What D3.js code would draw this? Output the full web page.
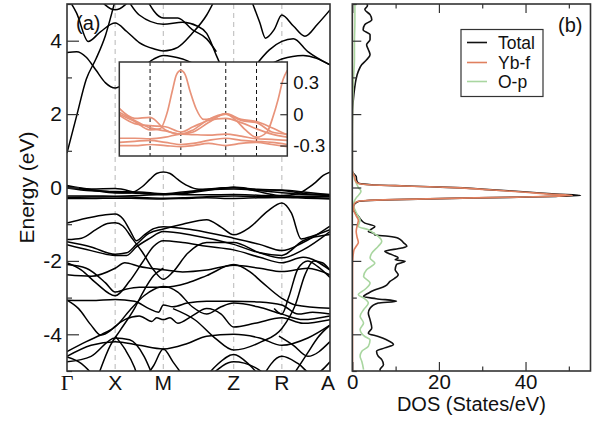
<!DOCTYPE html>
<html>
<head>
<meta charset="utf-8">
<script src="https://cdn.jsdelivr.net/npm/d3@7"></script>
<style>
  body { margin: 0; background: #fff; }
  text { font-family: "Liberation Sans", Arial, Helvetica, sans-serif; fill: #111; }
</style>
</head>
<body>
<svg id="chart" width="606" height="424"></svg>
<script>
// ---- k-path (high-symmetry points, cumulative path length) ----
const kLabels = ["Γ", "X", "M", "Z", "R", "A"];
const kPoints = [0, 0.5, 1.0, 1.73, 2.23, 2.73];

// ---- bands: each band is a list of [k, E(eV)] knots ----
const conductionBands = [
  [[0,0.94],[0.1,1.95],[0.2,2.95],[0.3,3.5],[0.4,4.15],[0.48,4.9],[0.52,5.3]],
  [[0,3.68],[0.1,3.7],[0.2,3.55],[0.3,3.2],[0.4,2.85],[0.5,2.71],[0.62,2.9],[0.75,3.2],[0.9,3.5],[1.0,3.6],[1.2,3.5],[1.45,3.2],[1.73,3.0],[2.0,3.2],[2.23,3.5],[2.45,3.6],[2.73,3.34]],
  [[0,5.2],[0.1,4.75],[0.22,3.98],[0.35,4.25],[0.5,4.48],[0.62,4.25],[0.75,3.95],[0.9,3.78],[1.0,3.72],[1.15,3.82],[1.3,4.2],[1.45,4.7],[1.55,5.2]],
  [[0.3,5.25],[0.5,4.84],[0.7,5.25]],
  [[0.6,5.25],[0.75,4.7],[1.0,4.45],[1.2,4.5],[1.35,4.4],[1.45,4.2],[1.55,3.6],[1.65,3.0]],
  [[0.8,5.25],[1.0,4.62],[1.15,4.62],[1.3,4.3],[1.45,4.05],[1.55,3.7]],
  [[1.9,5.2],[2.0,4.5],[2.06,4.07],[2.15,4.3],[2.23,4.7],[2.35,4.4],[2.47,4.12],[2.6,4.45],[2.73,4.84]],
  [[1.95,3.3],[2.1,3.75],[2.23,3.98],[2.35,4.05],[2.5,3.7],[2.73,3.34]]
];

const fBands = [
  [[0,0.0],[0.25,-0.07],[0.5,-0.15],[0.66,-0.14],[0.78,0.02],[0.86,0.22],[0.93,0.38],[1.0,0.42],[1.07,0.38],[1.15,0.22],[1.25,0.05],[1.37,-0.05],[1.5,-0.04],[1.73,0.0],[1.9,-0.06],[2.05,-0.15],[2.23,-0.22],[2.4,-0.17],[2.5,-0.02],[2.58,0.14],[2.66,0.33],[2.73,0.42]],
  [[0,0.055],[0.25,-0.04],[0.5,-0.03],[0.75,-0.15],[1.0,-0.19],[1.2,-0.17],[1.45,-0.08],[1.73,0.006],[1.98,-0.05],[2.23,-0.07],[2.48,-0.13],[2.73,-0.2]],
  [[0,0.02],[0.25,-0.06],[0.5,-0.13],[0.75,-0.16],[1.0,-0.19],[1.2,-0.15],[1.45,-0.05],[1.73,0.0],[1.98,-0.06],[2.23,-0.08],[2.48,-0.17],[2.73,-0.19]],
  [[0,-0.01],[0.25,-0.09],[0.5,-0.11],[0.75,-0.12],[1.0,-0.17],[1.2,-0.12],[1.45,-0.06],[1.73,-0.04],[1.98,-0.08],[2.23,-0.14],[2.48,-0.19],[2.73,-0.22]],
  [[0,-0.23],[0.25,-0.23],[0.5,-0.235],[0.75,-0.22],[1.0,-0.19],[1.2,-0.195],[1.45,-0.2],[1.73,-0.19],[1.98,-0.21],[2.23,-0.235],[2.48,-0.24],[2.73,-0.25]],
  [[0,-0.27],[0.25,-0.26],[0.5,-0.25],[0.75,-0.27],[1.0,-0.29],[1.2,-0.28],[1.45,-0.25],[1.73,-0.23],[1.98,-0.25],[2.23,-0.26],[2.48,-0.27],[2.73,-0.29]],
  [[0,-0.3],[0.25,-0.3],[0.5,-0.29],[0.75,-0.3],[1.0,-0.31],[1.2,-0.3],[1.45,-0.28],[1.73,-0.3],[1.98,-0.28],[2.23,-0.27],[2.48,-0.29],[2.73,-0.31]]
];

const valenceBands = [
  [[0,-0.97],[0.2,-0.84],[0.4,-0.74],[0.5,-0.72],[0.58,-0.85],[0.66,-1.2],[0.72,-1.45],[0.8,-1.3],[0.9,-1.12],[1.0,-1.07],[1.3,-1.15],[1.73,-1.38],[2.0,-1.55],[2.23,-1.72],[2.45,-1.5],[2.73,-1.05]],
  [[0,-1.42],[0.15,-1.38],[0.3,-1.15],[0.42,-0.98],[0.5,-0.96],[0.58,-1.05],[0.68,-1.4],[0.78,-1.75],[0.9,-2.25],[1.0,-2.5],[1.1,-2.3],[1.25,-1.8],[1.45,-1.5],[1.73,-1.5],[2.0,-1.78],[2.23,-1.92],[2.45,-1.7],[2.73,-1.2]],
  [[0,-1.48],[0.25,-1.62],[0.5,-1.82],[0.62,-1.78],[0.72,-1.55],[0.85,-1.25],[1.0,-1.13],[1.2,-1.0],[1.45,-0.88],[1.6,-1.08],[1.73,-1.29],[1.9,-1.08],[2.08,-0.65],[2.23,-0.42],[2.33,-0.7],[2.43,-1.4],[2.55,-1.32],[2.73,-1.15]],
  [[0,-1.56],[0.25,-1.72],[0.5,-1.85],[0.62,-1.85],[0.72,-1.62],[0.85,-1.4],[1.0,-1.2],[1.3,-1.3],[1.73,-1.55],[2.0,-1.78],[2.23,-1.85],[2.45,-1.45],[2.73,-1.28]],
  [[0,-2.05],[0.15,-2.25],[0.3,-2.6],[0.5,-2.95],[0.65,-2.55],[0.78,-2.05],[0.9,-1.6],[1.0,-1.45],[1.2,-1.5],[1.45,-1.6],[1.73,-1.7],[2.0,-1.9],[2.23,-2.05],[2.45,-1.9],[2.73,-2.25]],
  [[0,-2.1],[0.2,-2.2],[0.4,-2.6],[0.5,-2.85],[0.6,-2.78],[0.75,-2.72],[1.0,-2.72],[1.25,-2.6],[1.45,-2.4],[1.73,-2.1],[1.9,-2.3],[2.02,-2.57],[2.23,-3.02],[2.37,-3.2],[2.73,-3.29]],
  [[0,-2.38],[0.25,-2.42],[0.5,-2.2],[0.6,-2.05],[0.75,-2.15],[1.0,-2.24],[1.2,-2.3],[1.45,-2.25],[1.73,-2.12],[2.0,-2.2],[2.23,-2.29],[2.5,-2.2],[2.73,-2.38]],
  [[0,-3.07],[0.25,-3.08],[0.5,-3.05],[0.7,-3.1],[0.85,-3.3],[0.95,-3.4],[1.0,-3.2],[1.1,-3.25],[1.25,-3.15],[1.45,-3.1],[1.73,-3.1],[2.0,-3.12],[2.23,-3.2],[2.4,-3.45],[2.55,-3.4],[2.73,-3.45]],
  [[0,-3.07],[0.12,-3.3],[0.25,-3.75],[0.35,-4.02],[0.45,-3.9],[0.5,-3.78],[0.6,-3.6],[0.75,-3.5],[0.88,-3.65],[0.93,-3.55],[1.0,-3.6],[1.07,-3.55],[1.15,-3.7],[1.3,-3.5],[1.45,-3.3],[1.6,-3.45],[1.73,-3.8],[1.95,-3.7],[2.23,-3.55],[2.45,-3.7],[2.73,-3.6]],
  [[0,-4.47],[0.2,-4.2],[0.4,-3.95],[0.5,-3.8],[0.65,-3.35],[0.8,-2.95],[0.9,-2.78],[1.0,-2.7],[1.15,-2.85],[1.3,-3.25],[1.45,-3.45],[1.6,-3.25],[1.73,-3.15],[1.98,-3.25],[2.23,-3.45],[2.45,-3.6],[2.73,-3.5]],
  [[0,-4.6],[0.25,-4.3],[0.5,-4.2],[0.75,-4.3],[1.0,-4.4],[1.25,-4.25],[1.45,-4.05],[1.73,-4.0],[2.0,-4.1],[2.23,-4.3],[2.5,-4.1],[2.73,-3.75]],
  [[0,-4.75],[0.25,-4.6],[0.5,-4.1],[0.65,-4.15],[0.8,-4.6],[0.9,-5.2]],
  [[0,-4.62],[0.15,-4.8],[0.3,-5.2]],
  [[0.78,-5.3],[0.9,-4.85],[1.0,-4.4],[1.1,-4.75],[1.25,-5.3]],
  [[1.1,-3.3],[1.33,-3.61],[1.54,-4.11],[1.73,-4.43],[2.02,-4.2],[2.23,-3.84],[2.37,-3.2],[2.47,-2.38],[2.56,-2.0],[2.65,-2.05],[2.73,-2.25]],
  [[1.4,-5.3],[1.55,-4.85],[1.73,-4.55],[1.9,-4.85],[2.05,-5.3]],
  [[1.5,-5.1],[1.73,-4.75],[1.95,-4.9],[2.15,-5.3]],
  [[2.0,-5.3],[2.23,-4.6],[2.4,-4.8],[2.55,-5.1],[2.73,-4.75]],
  [[2.3,-5.3],[2.5,-4.5],[2.6,-4.1],[2.73,-3.75]],
  [[2.2,-4.05],[2.35,-4.3],[2.5,-4.6],[2.73,-4.2]],
  [[2.15,-3.3],[2.23,-3.45],[2.3,-3.0],[2.4,-2.2],[2.5,-2.0],[2.6,-2.15],[2.73,-2.45]],
  [[0.3,-5.3],[0.45,-4.3],[0.55,-3.9],[0.7,-3.3],[0.8,-2.8],[0.9,-2.4],[1.0,-2.2]],
  [[0.5,-4.05],[0.6,-4.4],[0.7,-4.9],[0.75,-5.3]]
];

// ---- density of states (States/eV) ----
const totalE   = [5.0,4.95,4.85,4.71,4.57,4.44,4.3,4.16,4.03,3.89,3.76,3.62,3.48,3.35,3.17,2.94,2.67,2.4,2.12,1.5,0.8,0.45,0.38,0.3,0.2,0.12,0.1,0.07,0.05,0.02,-0.01,-0.05,-0.09,-0.13,-0.18,-0.22,-0.24,-0.26,-0.29,-0.33,-0.36,-0.38,-0.42,-0.5,-0.6,-0.7,-0.8,-0.88,-0.97,-1.06,-1.13,-1.2,-1.25,-1.29,-1.33,-1.38,-1.5,-1.6,-1.65,-1.74,-1.79,-1.85,-1.92,-1.97,-2.01,-2.1,-2.24,-2.38,-2.56,-2.69,-2.8,-2.88,-2.97,-3.03,-3.1,-3.15,-3.29,-3.42,-3.6,-3.83,-3.97,-4.06,-4.15,-4.28,-4.37,-4.46,-4.6,-4.69,-4.83,-4.96,-5.0];
const totalDOS = [3.4,3.5,2.9,4.1,4.5,2.9,2.5,4.1,4.1,3.3,3.7,4.1,3.3,2.2,1.4,0.85,0.5,0.25,0.05,0,0,0,0.3,0.9,1.0,1.4,2.0,5.0,10.0,18.0,25.6,30.5,36.0,41.0,47.0,52.7,47.5,41.0,25.6,10.0,3.0,1.4,0.8,0.3,0.2,0.8,1.5,2.0,2.9,5.2,4.5,3.7,5.0,5.2,8.3,10.6,11.8,12.6,11.4,7.5,8.3,9.5,10.6,9.9,12.2,10.2,9.9,10.6,8.7,7.5,5.0,3.7,2.6,5.5,10.2,6.0,4.1,3.7,4.1,4.5,3.7,6.0,7.9,9.5,7.5,5.6,6.0,6.8,7.2,6.4,6.5];

const ybfE   = [5.0,0.5,0.4,0.3,0.2,0.12,0.1,0.07,0.05,0.02,-0.01,-0.05,-0.09,-0.13,-0.18,-0.22,-0.24,-0.26,-0.29,-0.33,-0.36,-0.38,-0.42,-0.5,-0.6,-0.75,-0.9,-1.0,-1.2,-1.35,-1.5,-1.6,-1.7,-1.9,-2.2,-5.0];
const ybfDOS = [0,0,0.1,0.5,0.7,1.2,1.8,4.6,9.5,17.5,25.0,30.0,35.0,40.0,45.5,50.8,46.0,40.0,25.0,9.5,2.6,1.2,0.6,0.3,0.3,0.8,1.4,1.2,0.9,1.1,1.4,0.9,0.4,0.15,0.05,0.05];

const opE   = [5.0,4.5,4.0,3.5,3.0,2.5,2.0,1.0,0.45,0.35,0.2,0.1,0.0,-0.1,-0.2,-0.3,-0.4,-0.5,-0.6,-0.75,-0.88,-1.06,-1.15,-1.24,-1.33,-1.47,-1.6,-1.79,-1.92,-2.06,-2.24,-2.42,-2.6,-2.78,-2.92,-3.01,-3.15,-3.33,-3.51,-3.69,-3.87,-4.06,-4.15,-4.33,-4.46,-4.6,-4.74,-4.96];
const opDOS = [0.6,0.6,0.5,0.5,0.3,0.15,0.05,0,0,0.3,0.6,1.0,1.4,2.0,1.5,0.8,0.4,0.3,0.6,1.2,1.8,1.4,3.7,4.9,6.0,6.8,6.0,4.5,4.1,5.2,3.3,2.6,4.1,2.9,1.4,2.6,3.7,2.6,1.8,2.6,1.8,2.9,4.1,3.7,2.2,1.8,2.2,2.6];

const legendLabels = ["Total", "Yb-f", "O-p"];
const dosColors = ["#111111", "#e0805f", "#a9d6a0"];

// ---- layout ----
const svg = d3.select("#chart");
const pa = { left: 67, right: 330, top: 4, bottom: 371 };
const pb = { left: 352.3, right: 590.5, top: 4, bottom: 371 };
const inset = { left: 119.3, right: 287.3, top: 62, bottom: 156 };
const sansFont = "'Liberation Sans', Arial, sans-serif";
// plain hyphen for negative tick labels
const hyphenFmt = digits => d => (d < 0 ? "-" : "") + (d === 0 ? "0" : Math.abs(d).toFixed(digits));

const xK = d3.scaleLinear().domain([0, 2.73]).range([pa.left, pa.right]);
const yE = d3.scaleLinear().domain([-5, 5]).range([pa.bottom, pa.top]);
const xIn = d3.scaleLinear().domain([0, 2.73]).range([inset.left, inset.right]);
const yIn = d3.scaleLinear().domain([-0.4, 0.5]).range([inset.bottom, inset.top]);
const xD = d3.scaleLinear().domain([0, 55]).range([pb.left, pb.right]);

const defs = svg.append("defs");
defs.append("clipPath").attr("id", "clipA").append("rect")
  .attr("x", pa.left).attr("y", pa.top).attr("width", pa.right - pa.left).attr("height", pa.bottom - pa.top);
defs.append("clipPath").attr("id", "clipB").append("rect")
  .attr("x", pb.left).attr("y", pb.top).attr("width", pb.right - pb.left).attr("height", pb.bottom - pb.top);
defs.append("clipPath").attr("id", "clipIn").append("rect")
  .attr("x", inset.left).attr("y", inset.top).attr("width", inset.right - inset.left).attr("height", inset.bottom - inset.top);

// ---- panel (a): band structure ----
const gA = svg.append("g");
gA.append("g").selectAll("line").data(kPoints.slice(1, -1)).join("line")
  .attr("x1", d => xK(d)).attr("x2", d => xK(d))
  .attr("y1", pa.top).attr("y2", pa.bottom)
  .attr("stroke", "#c4c4c4").attr("stroke-width", 1.2).attr("stroke-dasharray", "5,4");

const bandLine = d3.line().x(d => xK(d[0])).y(d => yE(d[1])).curve(d3.curveMonotoneX);
gA.append("g").attr("clip-path", "url(#clipA)")
  .selectAll("path").data([...conductionBands, ...fBands, ...valenceBands]).join("path")
  .attr("d", bandLine).attr("fill", "none").attr("stroke", "#000").attr("stroke-width", 1.5);

// y axis of (a): major labelled ticks + minor ticks
const majorE = [-4, -2, 0, 2, 4];
const minorE = [-5, -3, -1, 1, 3, 5];
const axA = gA.append("g").attr("transform", `translate(${pa.left},0)`)
  .call(d3.axisLeft(yE).tickValues(majorE).tickSize(-12).tickPadding(5).tickFormat(hyphenFmt(0)));
axA.select(".domain").remove();
axA.selectAll("text").attr("font-size", 21).style("font-family", sansFont);
const axAm = gA.append("g").attr("transform", `translate(${pa.left},0)`)
  .call(d3.axisLeft(yE).tickValues(minorE).tickSize(-5).tickFormat(""));
axAm.select(".domain").remove();
svg.selectAll(".tick line").attr("stroke", "#333").attr("stroke-width", 1.2);

gA.append("rect").attr("x", pa.left).attr("y", pa.top)
  .attr("width", pa.right - pa.left).attr("height", pa.bottom - pa.top)
  .attr("fill", "none").attr("stroke", "#333").attr("stroke-width", 1.6);

gA.selectAll(".klabel").data(kLabels).join("text").attr("class", "klabel")
  .attr("x", (d, i) => xK(kPoints[i]) + (i === 5 ? -2 : 0)).attr("y", 390)
  .attr("text-anchor", "middle")
  .attr("font-size", d => d === "Γ" ? 22 : 21)
  .style("font-family", d => d === "Γ" ? "'Liberation Serif', 'DejaVu Serif', serif" : sansFont)
  .text(d => d);

gA.append("text").attr("x", 76).attr("y", 30).attr("font-size", 20).text("(a)");
gA.append("text").attr("transform", `translate(34,${(pa.top + pa.bottom) / 2}) rotate(-90)`)
  .attr("text-anchor", "middle").attr("font-size", 21).text("Energy (eV)");

// ---- inset: f bands near the Fermi level ----
const gIn = svg.append("g");
gIn.append("rect").attr("x", inset.left).attr("y", inset.top)
  .attr("width", inset.right - inset.left).attr("height", inset.bottom - inset.top)
  .attr("fill", "#fff");
gIn.append("g").selectAll("line").data(kPoints.slice(1, -1)).join("line")
  .attr("x1", d => xIn(d)).attr("x2", d => xIn(d))
  .attr("y1", inset.top).attr("y2", inset.bottom)
  .attr("stroke", "#111").attr("stroke-width", 1).attr("stroke-dasharray", "4,3");
const insetLine = d3.line().x(d => xIn(d[0])).y(d => yIn(d[1])).curve(d3.curveMonotoneX);
gIn.append("g").attr("clip-path", "url(#clipIn)")
  .selectAll("path").data(fBands).join("path")
  .attr("d", insetLine).attr("fill", "none").attr("stroke", "#e8937a").attr("stroke-width", 1.7);
const axIn = gIn.append("g").attr("transform", `translate(${inset.right},0)`)
  .call(d3.axisRight(yIn).tickValues([-0.3, 0, 0.3]).tickSize(-7).tickPadding(6).tickFormat(hyphenFmt(1)));
axIn.select(".domain").remove();
axIn.selectAll("text").attr("font-size", 18.5).style("font-family", sansFont);
axIn.selectAll(".tick line").attr("stroke", "#333").attr("stroke-width", 1.2);
gIn.append("rect").attr("x", inset.left).attr("y", inset.top)
  .attr("width", inset.right - inset.left).attr("height", inset.bottom - inset.top)
  .attr("fill", "none").attr("stroke", "#333").attr("stroke-width", 1.5);

// ---- panel (b): DOS ----
const gB = svg.append("g");
const dosSeries = [
  { e: totalE, v: totalDOS, color: dosColors[0] },
  { e: opE, v: opDOS, color: dosColors[2] },
  { e: ybfE, v: ybfDOS, color: dosColors[1] }
];
const dosLine = d3.line().x(d => xD(d[1])).y(d => yE(d[0])).curve(d3.curveMonotoneY);
gB.append("g").attr("clip-path", "url(#clipB)")
  .selectAll("path").data(dosSeries).join("path")
  .attr("d", s => dosLine(s.e.map((e, i) => [e, s.v[i]])))
  .attr("fill", "none").attr("stroke", s => s.color).attr("stroke-width", 1.6);

const axBy = gB.append("g").attr("transform", `translate(${pb.left},0)`)
  .call(d3.axisLeft(yE).tickValues(majorE).tickSize(-9).tickFormat(""));
axBy.select(".domain").remove();
const axBym = gB.append("g").attr("transform", `translate(${pb.left},0)`)
  .call(d3.axisLeft(yE).tickValues(minorE).tickSize(-4.5).tickFormat(""));
axBym.select(".domain").remove();

const axBx = gB.append("g").attr("transform", `translate(0,${pb.bottom})`)
  .call(d3.axisBottom(xD).tickValues([0, 20, 40]).tickSize(-9).tickPadding(3).tickFormat(hyphenFmt(0)));
axBx.select(".domain").remove();
axBx.selectAll("text").attr("font-size", 20.5).style("font-family", sansFont);
const axBxm = gB.append("g").attr("transform", `translate(0,${pb.bottom})`)
  .call(d3.axisBottom(xD).tickValues([10, 30, 50]).tickSize(-4.5).tickFormat(""));
axBxm.select(".domain").remove();
const axBt = gB.append("g").attr("transform", `translate(0,${pb.top})`)
  .call(d3.axisTop(xD).tickValues([0, 20, 40]).tickSize(-9).tickFormat(""));
axBt.select(".domain").remove();
const axBtm = gB.append("g").attr("transform", `translate(0,${pb.top})`)
  .call(d3.axisTop(xD).tickValues([10, 30, 50]).tickSize(-4.5).tickFormat(""));
axBtm.select(".domain").remove();
gB.selectAll(".tick line").attr("stroke", "#333").attr("stroke-width", 1.2);

gB.append("rect").attr("x", pb.left).attr("y", pb.top)
  .attr("width", pb.right - pb.left).attr("height", pb.bottom - pb.top)
  .attr("fill", "none").attr("stroke", "#333").attr("stroke-width", 1.6);

gB.append("text").attr("x", 558).attr("y", 32).attr("font-size", 20).text("(b)");
gB.append("text").attr("x", (pb.left + pb.right) / 2).attr("y", 411)
  .attr("text-anchor", "middle").attr("font-size", 20).text("DOS (States/eV)");

// legend
const lg = gB.append("g");
lg.append("rect").attr("x", 461).attr("y", 29.5).attr("width", 82).attr("height", 67)
  .attr("fill", "#fff").attr("stroke", "#333").attr("stroke-width", 1.2);
const lgY = [42.5, 62.5, 81.5];
legendLabels.forEach((lab, i) => {
  lg.append("line").attr("x1", 467).attr("x2", 487).attr("y1", lgY[i]).attr("y2", lgY[i])
    .attr("stroke", dosColors[i]).attr("stroke-width", 1.6);
  lg.append("text").attr("x", 498).attr("y", lgY[i] + 6).attr("font-size", 17.5).text(lab);
});
</script>
</body>
</html>
